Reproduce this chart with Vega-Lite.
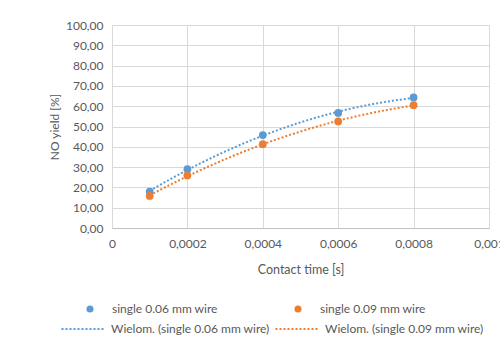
{
  "$schema": "https://vega.github.io/schema/vega-lite/v6.json",
  "width": 377,
  "height": 203,
  "autosize": {"type": "none"},
  "padding": {"left": 112, "top": 25, "right": 11, "bottom": 114},
  "background": "white",
  "config": {
    "locale": {"number": {"decimal": ",", "thousands": " ", "grouping": [3], "currency": ["", " zł"]}},
    "font": "Lato",
    "view": {"stroke": null},
    "axis": {"labelColor": "#595959", "titleColor": "#595959", "labelFont": "Lato", "titleFont": "Lato", "titleFontWeight": "normal", "gridColor": "#d9d9d9", "ticks": false},
    "legend": {"labelColor": "#595959", "labelFont": "Lato", "labelFontSize": 12}
  },
  "data": {
    "values": [
      {"series": "single 0.06 mm wire", "t": 0.0001, "y": 17.9},
      {"series": "single 0.06 mm wire", "t": 0.0002, "y": 29.0},
      {"series": "single 0.06 mm wire", "t": 0.0004, "y": 45.8},
      {"series": "single 0.06 mm wire", "t": 0.0006, "y": 56.7},
      {"series": "single 0.06 mm wire", "t": 0.0008, "y": 64.3},
      {"series": "single 0.09 mm wire", "t": 0.0001, "y": 15.8},
      {"series": "single 0.09 mm wire", "t": 0.0002, "y": 25.9},
      {"series": "single 0.09 mm wire", "t": 0.0004, "y": 41.3},
      {"series": "single 0.09 mm wire", "t": 0.0006, "y": 52.5},
      {"series": "single 0.09 mm wire", "t": 0.0008, "y": 60.5}
    ]
  },
  "encoding": {
    "x": {
      "field": "t", "type": "quantitative", "title": "Contact time [s]",
      "scale": {"domain": [0, 0.001], "nice": false, "zero": true},
      "axis": {"values": [0, 0.0002, 0.0004, 0.0006, 0.0008, 0.001], "format": "~g", "labelFontSize": 12, "labelPadding": 10, "titleFontSize": 12.5, "titlePadding": 14, "domainColor": "#bfbfbf", "labelFlush": false}
    },
    "y": {
      "field": "y", "type": "quantitative", "title": "NO yield [%]",
      "scale": {"domain": [0, 100], "nice": false},
      "axis": {"values": [0, 10, 20, 30, 40, 50, 60, 70, 80, 90, 100], "format": ".2f", "labelFontSize": 12, "labelPadding": 9, "titleFontSize": 12, "titlePadding": 4, "domain": false}
    }
  },
  "layer": [
    {
      "transform": [{"regression": "y", "on": "t", "groupby": ["series"], "method": "poly", "order": 2}],
      "mark": {"type": "line", "strokeWidth": 2, "strokeDash": [2, 2]},
      "encoding": {
        "color": {
          "field": "series", "type": "nominal",
          "scale": {"domain": ["single 0.06 mm wire", "single 0.09 mm wire"], "range": ["#5b9bd5", "#ed7d31"]},
          "legend": {"title": null, "orient": "none", "legendX": -52, "legendY": 281, "direction": "horizontal", "columns": 2, "columnPadding": 1, "symbolType": "stroke", "symbolSize": 1850, "symbolStrokeWidth": 2, "symbolDash": [2, 2], "labelOffset": 5, "labelExpr": "'Wielom. (' + datum.label + ')'"}
        }
      }
    },
    {
      "mark": {"type": "circle", "size": 60, "opacity": 1},
      "encoding": {
        "color": {
          "field": "series", "type": "nominal",
          "scale": {"domain": ["single 0.06 mm wire", "single 0.09 mm wire"], "range": ["#5b9bd5", "#ed7d31"]},
          "legend": {"title": null, "orient": "none", "legendX": -28, "legendY": 278, "direction": "horizontal", "columns": 2, "columnPadding": 74, "symbolType": "circle", "symbolSize": 50, "symbolOpacity": 1, "labelOffset": 16}
        }
      }
    }
  ],
  "resolve": {"scale": {"color": "independent"}}
}
